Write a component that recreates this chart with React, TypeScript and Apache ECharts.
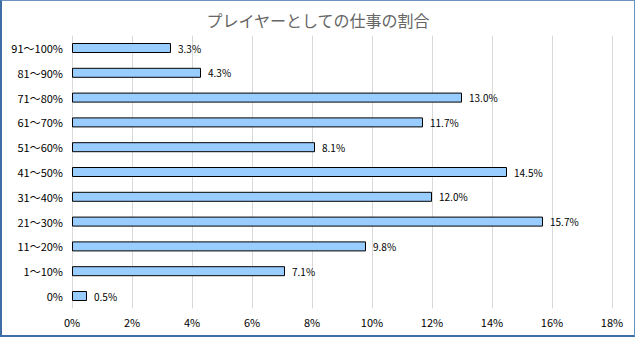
import React, { useEffect, useRef } from "react";
import * as echarts from "echarts";

const categories = ["0%", "1～10%", "11～20%", "21～30%", "31～40%", "41～50%", "51～60%", "61～70%", "71～80%", "81～90%", "91～100%"];
const values = [0.5, 7.1, 9.8, 15.7, 12.0, 14.5, 8.1, 11.7, 13.0, 4.3, 3.3];
const xTicks = [0, 2, 4, 6, 8, 10, 12, 14, 16, 18];
const title = "プレイヤーとしての仕事の割合";

const FONT = "'Noto Sans CJK JP', 'Liberation Sans', sans-serif";

export default function App() {
  const ref = useRef<HTMLDivElement>(null);
  useEffect(() => {
    document.body.style.margin = "0";
    const chart = echarts.init(ref.current!, null, { renderer: "svg" });
    chart.setOption({
      animation: false,
      backgroundColor: "#ffffff",
      title: {
        text: title,
        left: "center",
        top: 6,
        textStyle: { fontFamily: FONT, fontSize: 16, fontWeight: "normal", color: "#666666" },
      },
      grid: { left: 70, right: 22, top: 34.6, bottom: 26.6, containLabel: false },
      xAxis: {
        type: "value",
        min: xTicks[0],
        max: xTicks[xTicks.length - 1],
        interval: 2,
        axisLine: { show: false },
        axisTick: { show: false },
        axisLabel: { formatter: "{value}%", fontFamily: FONT, fontSize: 11, color: "#000", margin: 8 },
        splitLine: { show: true, lineStyle: { color: "#d9d9d9", width: 1 } },
      },
      yAxis: {
        type: "category",
        data: categories,
        axisLine: { show: false },
        axisTick: { show: false },
        axisLabel: { fontFamily: FONT, fontSize: 11, color: "#000", margin: 9 },
        splitLine: { show: false },
      },
      series: [
        {
          type: "bar",
          data: values,
          barWidth: 10,
          itemStyle: { color: "#99ccff", borderColor: "#000", borderWidth: 1 },
          label: {
            show: true,
            position: "right",
            distance: 7,
            formatter: (p: any) => p.value.toFixed(1) + "%",
            fontFamily: FONT,
            fontSize: 10,
            color: "#000",
          },
        },
      ],
    });
    return () => chart.dispose();
  }, []);
  return (
    <div
      style={{
        position: "absolute",
        left: 0,
        top: 0,
        width: 635,
        height: 337,
        boxSizing: "border-box",
        borderLeft: "2px solid #3d6fa6",
        borderBottom: "2px solid #3d6fa6",
        borderTop: "1px solid #6a93c2",
        borderRight: "1px solid #6a93c2",
        background: "#fff",
      }}
    >
      <div ref={ref} style={{ width: 632, height: 334 }} />
    </div>
  );
}
